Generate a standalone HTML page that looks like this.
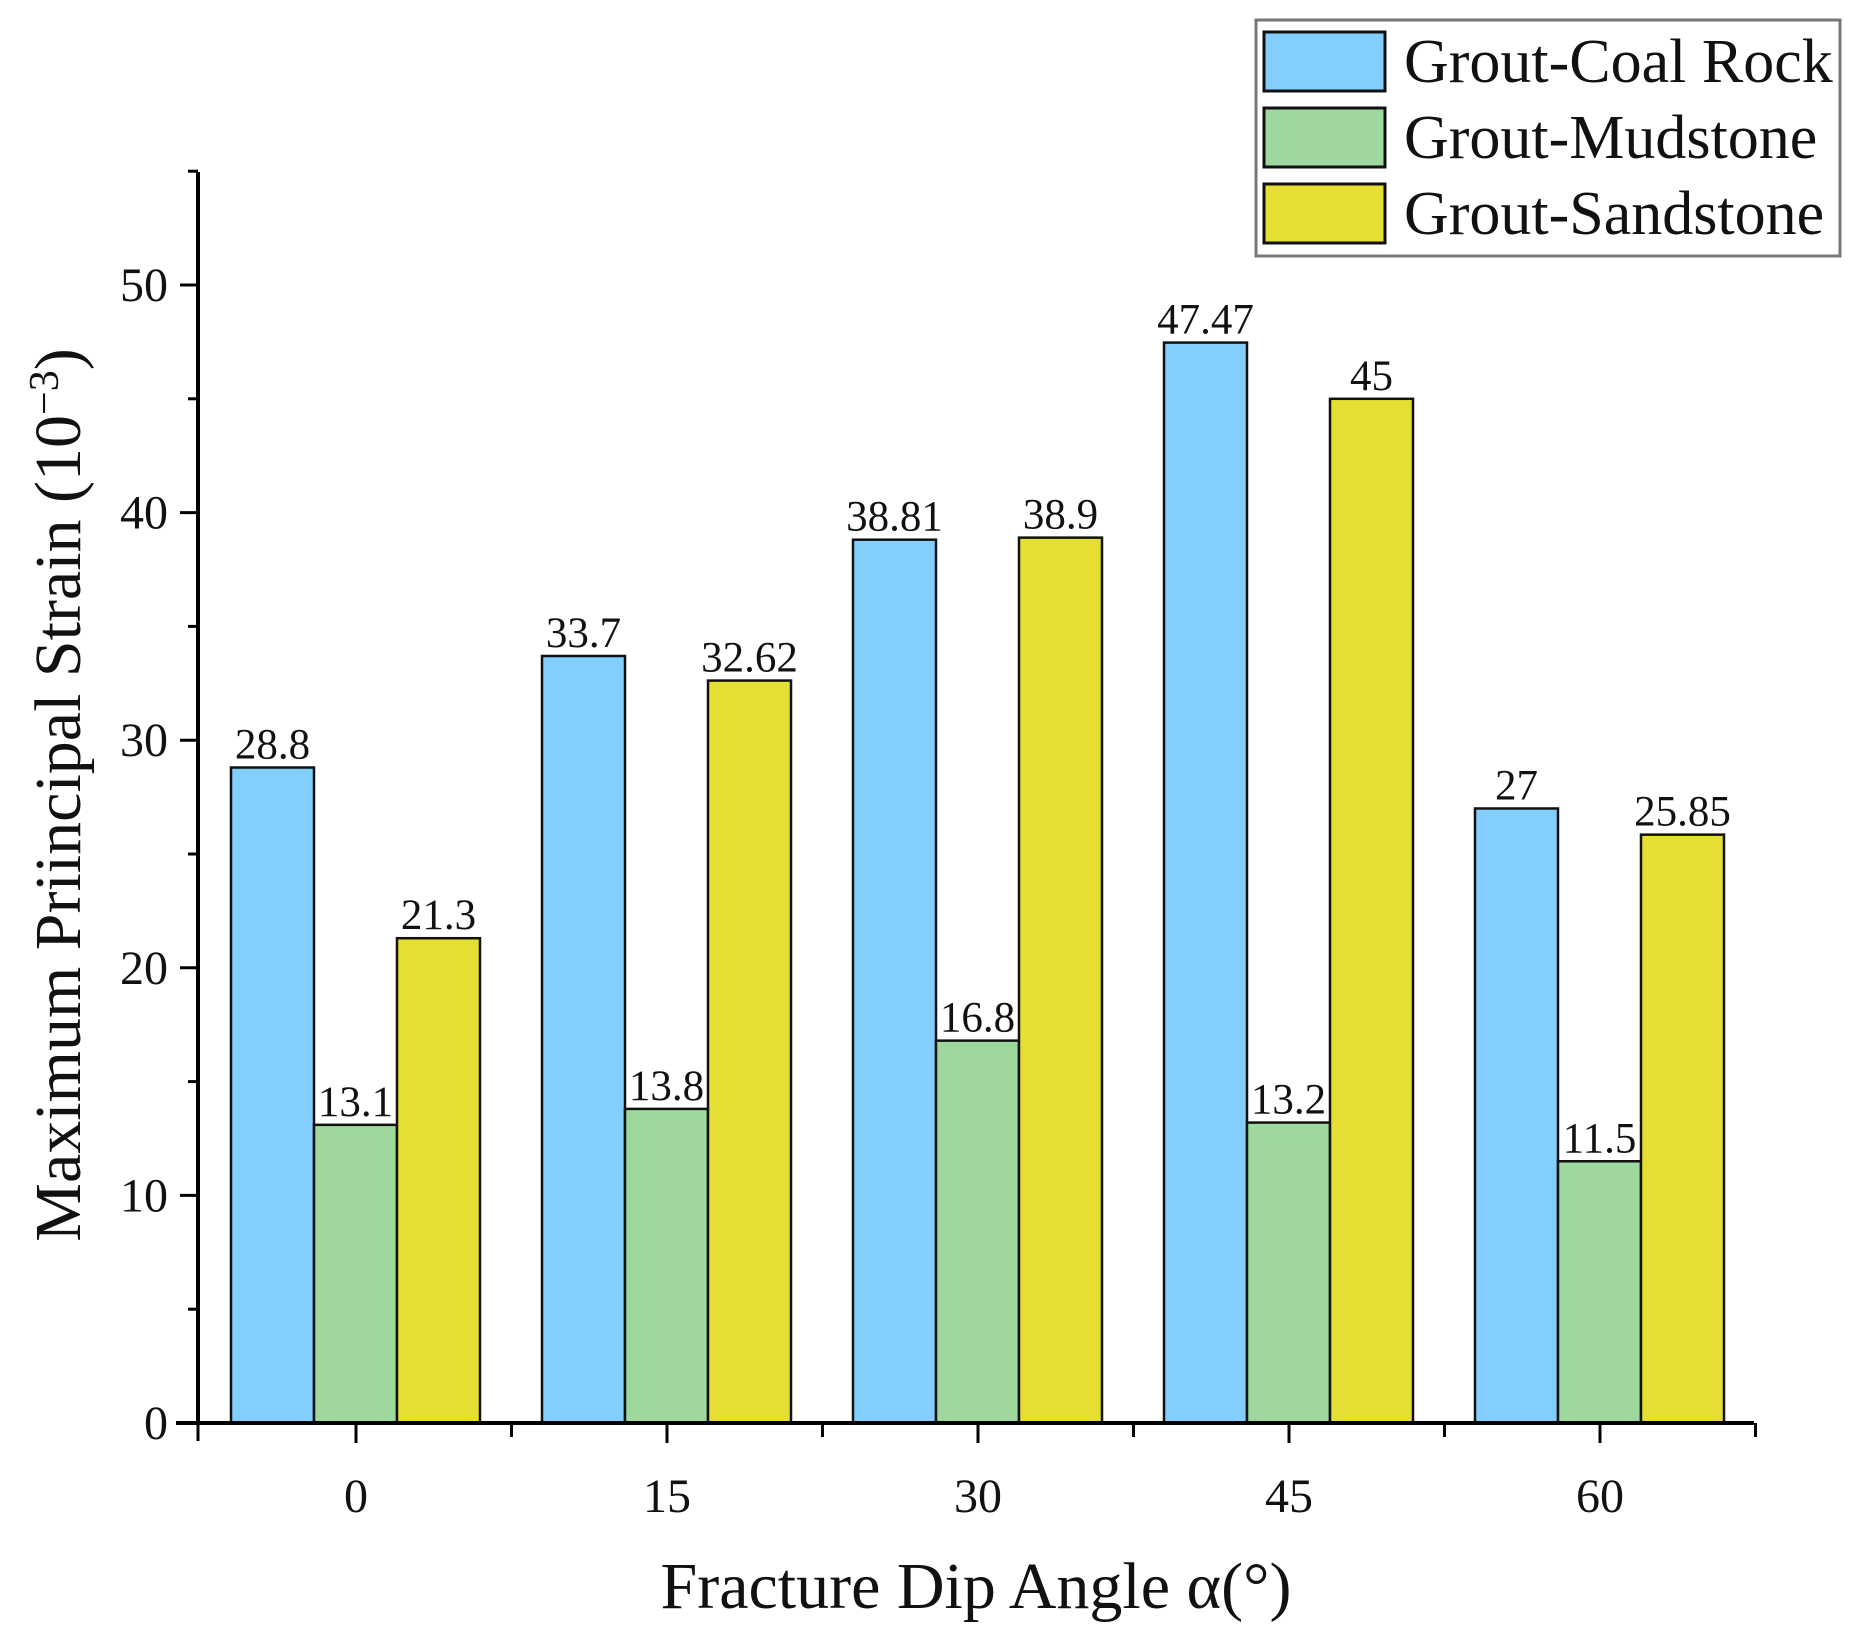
<!DOCTYPE html>
<html><head><meta charset="utf-8"><style>
html,body{margin:0;padding:0;background:#fff}
svg text{font-family:"Liberation Serif",serif;fill:#111}
</style></head><body>
<svg id="chart" width="1861" height="1640" viewBox="0 0 1861 1640"></svg>
<script>
const categories=["0","15","30","45","60"];
const coalRock=[28.8,33.7,38.81,47.47,27];
const mudstone=[13.1,13.8,16.8,13.2,11.5];
const sandstone=[21.3,32.62,38.9,45,25.85];
const coalLabels=["28.8","33.7","38.81","47.47","27"];
const mudLabels=["13.1","13.8","16.8","13.2","11.5"];
const sandLabels=["21.3","32.62","38.9","45","25.85"];
const yTicks=[0,10,20,30,40,50];
const seriesNames=["Grout-Coal Rock","Grout-Mudstone","Grout-Sandstone"];
const NS="http://www.w3.org/2000/svg";
const svg=document.getElementById('chart');
const X0=198,BASE=1423,TOP=172,XR=1754;
function y(v){return BASE-v*(1423-285)/50;}
function xc(i){return 356+i*311;}
const BW=83;
function el(t,a,txt){const e=document.createElementNS(NS,t);for(const k in a)e.setAttribute(k,a[k]);if(txt!==undefined)e.textContent=txt;svg.appendChild(e);return e;}
const colors=["#82cfff","#9fd89e","#e6df33"];
const sers=[coalRock,mudstone,sandstone];
const labs=[coalLabels,mudLabels,sandLabels];
const snames=["coal-rock","mudstone","sandstone"];
for(let s=0;s<3;s++){for(let i=0;i<categories.length;i++){
 const x=xc(i)-125+s*BW, v=sers[s][i];
 const r=el('rect',{x:x,y:y(v),width:BW,height:BASE-y(v),fill:colors[s],stroke:'#111','stroke-width':2.5});
 
 
 const t=el('text',{x:x+BW/2,y:y(v)-9,'text-anchor':'middle','font-size':43},labs[s][i]);
 
 
}}
const ya=el('line',{x1:X0,y1:TOP,x2:X0,y2:BASE+2,stroke:'#000','stroke-width':4});

const xa=el('line',{x1:X0-22,y1:BASE,x2:XR,y2:BASE,stroke:'#000','stroke-width':4});

for(let v=5;v<=55;v+=5){ if(v%10) el('line',{x1:X0-10,y1:y(v),x2:X0,y2:y(v),stroke:'#000','stroke-width':3}); }
for(const v of yTicks){
 el('line',{x1:X0-18,y1:y(v),x2:X0,y2:y(v),stroke:'#000','stroke-width':3});
 const t=el('text',{x:X0-30,y:y(v)+16,'text-anchor':'end','font-size':48},String(v));
 
}
el('line',{x1:X0,y1:BASE,x2:X0,y2:BASE+18,stroke:'#000','stroke-width':3});
for(let i=0;i<categories.length;i++){
 el('line',{x1:xc(i),y1:BASE,x2:xc(i),y2:BASE+20,stroke:'#000','stroke-width':3});
 el('line',{x1:xc(i)+155.5,y1:BASE,x2:xc(i)+155.5,y2:BASE+14,stroke:'#000','stroke-width':3});
 const t=el('text',{x:xc(i),y:1512,'text-anchor':'middle','font-size':48},categories[i]);
 
}
const xt=el('text',{x:976,y:1608,'text-anchor':'middle','font-size':66},'Fracture Dip Angle α(°)');

const yt=el('text',{x:0,y:0,'text-anchor':'middle','font-size':66,transform:'translate(80,795) rotate(-90)'});

yt.innerHTML='Maximum Priincipal Strain (10<tspan dy="-22" font-size="42">−3</tspan><tspan dy="22">)</tspan>';
const lg=el('rect',{x:1256,y:20,width:584,height:236,fill:'#fff',stroke:'#777','stroke-width':3});

for(let s=0;s<3;s++){
 const yy=32+s*76;
 const sw=el('rect',{x:1264,y:yy,width:121,height:59,fill:colors[s],stroke:'#111','stroke-width':3});
 
 const t=el('text',{x:1404,y:yy+50,'font-size':62},seriesNames[s]);
 
}
</script>
</body></html>
